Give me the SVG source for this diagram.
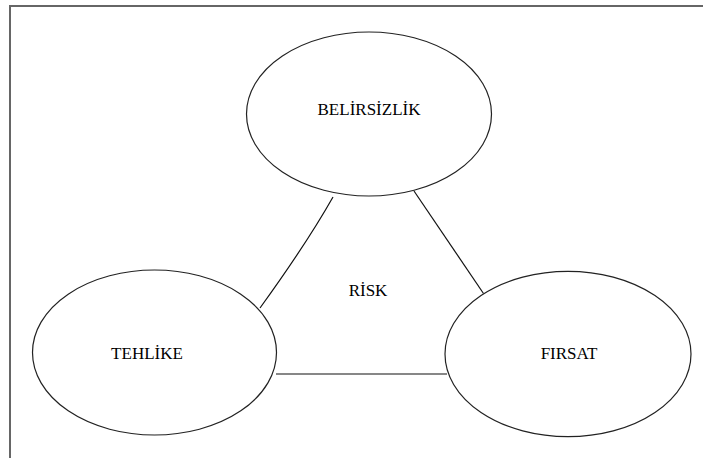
<svg xmlns="http://www.w3.org/2000/svg" width="703" height="458" viewBox="0 0 703 458">
<style>
.node ellipse{fill:#fff;stroke:#222;stroke-width:1.2}
.lbl{font-family:"Liberation Serif","Times New Roman",serif;font-size:17px;fill:#000;text-anchor:middle}
.conn path,.conn line{stroke:#111;stroke-width:1.2;fill:none}
.frame{stroke:#666;stroke-width:2;fill:none}
</style>
<rect width="703" height="458" fill="#fff"/>
<path class="frame" d="M10,459 V6 H704"/>
<g id="connectors" class="conn">
<path d="M333,197 Q307,243 260,308"/>
<line x1="414" y1="191" x2="483.5" y2="293.5"/>
<line x1="276" y1="374" x2="447" y2="374"/>
</g>
<g id="belirsizlik" class="node">
<ellipse cx="369" cy="114" rx="122.5" ry="82"/>
<text class="lbl" x="369" y="115">BELİRSİZLİK</text>
</g>
<g id="risk">
<text class="lbl" x="368" y="296">RİSK</text>
</g>
<g id="tehlike" class="node">
<ellipse cx="154.5" cy="352.5" rx="122" ry="82.5"/>
<text class="lbl" x="147" y="359">TEHLİKE</text>
</g>
<g id="firsat" class="node">
<ellipse cx="568" cy="354" rx="123" ry="82.7"/>
<text class="lbl" x="569" y="359">FIRSAT</text>
</g>
</svg>
